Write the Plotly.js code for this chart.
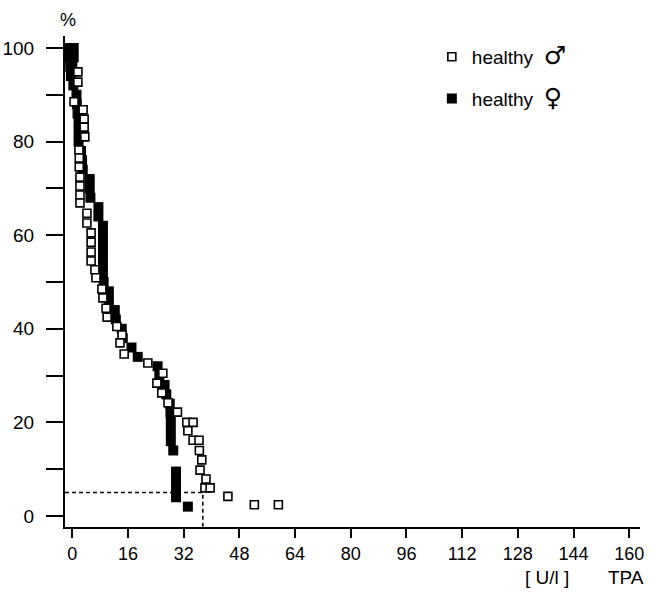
<!DOCTYPE html>
<html>
<head>
<meta charset="utf-8">
<script src="https://cdn.plot.ly/plotly-3.0.1.min.js"></script>
<style>html,body{margin:0;padding:0;background:#fff;}#chart{width:652px;height:594px;}</style>
</head>
<body>
<div id="chart"></div>
<script>
// Males (open squares): TPA [U/l] and cumulative %
var maleX = [1.6, 1.6, 0.5, 3.1, 3.4, 3.4, 3.6, 1.9, 2.0, 2.0, 2.2, 2.2, 2.2, 2.2, 4.2, 4.2,
             5.4, 5.4, 5.4, 5.4, 6.5, 6.8, 8.5, 8.8, 9.7, 10.0, 12.8, 14.3, 13.7, 14.9, 21.7, 26.0, 24.3, 25.7, 27.5, 30.2,
             32.9, 34.7, 33.2, 34.7, 36.4, 36.5, 37.2, 36.7, 38.4, 38.1, 39.6, 44.7, 52.3, 59.2];
var maleY = [94.9, 92.7, 88.5, 86.8, 84.8, 83.1, 81.0, 78.2, 76.5, 74.6, 72.4, 70.5, 68.6, 66.9, 64.7, 62.6,
             60.5, 58.5, 56.4, 54.5, 52.6, 50.9, 48.5, 46.6, 44.4, 42.5, 40.5, 38.7, 37.0, 34.6, 32.7, 30.5, 28.4, 26.3, 24.2, 22.2,
             20.0, 20.0, 18.2, 16.2, 16.2, 14.0, 12.0, 9.8, 7.9, 6.0, 6.0, 4.2, 2.4, 2.4];
// Females (filled squares)
var femaleX = [-0.8, 0.4, -0.8, 0.4, -0.6, 0.0, -0.4, 0.3, 1.2, 1.3, 1.5, 1.8, 1.8, 1.8, 2.5, 2.8, 3.0, 5.0, 5.0, 5.2, 7.5, 7.5, 8.8,
               8.8, 8.8, 8.8, 8.8, 8.8, 9.0, 10.5, 10.5, 12.2, 12.5, 14.2, 14.5, 17.0, 18.8, 24.5, 25.0, 26.5, 27.0, 28.0, 28.2,
               28.3, 28.3, 28.3, 29.0, 29.8, 29.8, 29.8, 29.8, 33.2];
var femaleY = [100, 100, 98, 98, 96, 96, 94, 92, 90, 88, 86, 84, 82, 80, 78, 76, 74, 72, 70, 68, 66, 64, 62,
               60, 58, 56, 54, 52, 50, 48, 46, 44, 42, 40, 38, 36, 34, 32, 30, 28, 26, 24, 22,
               20, 18, 16, 14, 9.5, 7.5, 5.5, 4.0, 2.0];
// Cut-off (dashed guide)
var cutoffX = 37.5;
var cutoffY = 5;
var xTickVals = [0, 16, 32, 48, 64, 80, 96, 112, 128, 144, 160];
var yTickVals = [0, 10, 20, 30, 40, 50, 60, 70, 80, 90, 100];
var yTickText = ['0', '', '20', '', '40', '', '60', '', '80', '', '100'];

var xRange = [-2.1, 163.1];
var yRange = [-2.35, 102.56];

var font = 'Liberation Sans, Arial, sans-serif';
var sym = function (s) { return '<span style="font-family:\'DejaVu Sans\';font-size:25px">' + s + '</span>'; };

var traces = [
  {
    x: [xRange[0], cutoffX, cutoffX], y: [cutoffY, cutoffY, yRange[0]],
    mode: 'lines', line: {color: '#000', width: 1.5, dash: '4px,3px'},
    showlegend: false, hoverinfo: 'skip'
  },
  {
    x: femaleX, y: femaleY, mode: 'markers', name: 'healthy&nbsp; ' + sym('♀'),
    legendgroup: 'f', legendrank: 2,
    marker: {symbol: 'square', size: 10, color: '#000', line: {width: 0}}
  },
  {
    x: maleX, y: maleY, mode: 'markers', name: 'healthy&nbsp; ' + sym('♂'),
    legendgroup: 'm', legendrank: 1,
    marker: {symbol: 'square', size: 8, color: '#fff', line: {color: '#000', width: 1.6}}
  }
];

var layout = {
  width: 652, height: 594,
  margin: {l: 65, r: 12, t: 36, b: 67, pad: 0},
  paper_bgcolor: '#fff', plot_bgcolor: '#fff',
  font: {family: font, size: 18, color: '#000'},
  showlegend: true,
  legend: {
    x: 0.638, y: 0.996, xanchor: 'left', yanchor: 'top',
    traceorder: 'grouped', tracegroupgap: 14,
    font: {family: font, size: 19, color: '#000'},
    bgcolor: 'rgba(0,0,0,0)', itemsizing: 'trace'
  },
  xaxis: {
    range: xRange, tickvals: xTickVals, ticks: 'outside', ticklen: 9, tickwidth: 2, tickcolor: '#000',
    showline: true, linecolor: '#000', linewidth: 2, showgrid: false, zeroline: false,
    tickfont: {family: font, size: 18, color: '#000'}
  },
  yaxis: {
    range: yRange, tickvals: yTickVals, ticktext: yTickText, ticks: 'outside', ticklen: 17, tickwidth: 2, tickcolor: '#000',
    showline: true, linecolor: '#000', linewidth: 2, showgrid: false, zeroline: false,
    ticklabelstandoff: 8,
    tickfont: {family: font, size: 19, color: '#000'}
  },
  annotations: [
    {text: '%', xref: 'paper', yref: 'paper', x: 0.005, y: 1.0, yshift: 4, xanchor: 'center', yanchor: 'bottom', showarrow: false,
     font: {family: font, size: 18, color: '#000'}},
    {text: '[ U/l ]', xref: 'paper', yref: 'paper', x: 0.838, y: 0, yshift: -38, xanchor: 'center', yanchor: 'top', showarrow: false,
     font: {family: font, size: 19, color: '#000'}},
    {text: 'TPA', xref: 'paper', yref: 'paper', x: 1.0, y: 0, xshift: 6, yshift: -38, xanchor: 'right', yanchor: 'top', showarrow: false,
     font: {family: font, size: 19, color: '#000'}}
  ]
};

Plotly.newPlot('chart', traces, layout, {displayModeBar: false, staticPlot: true});
</script>
</body>
</html>
